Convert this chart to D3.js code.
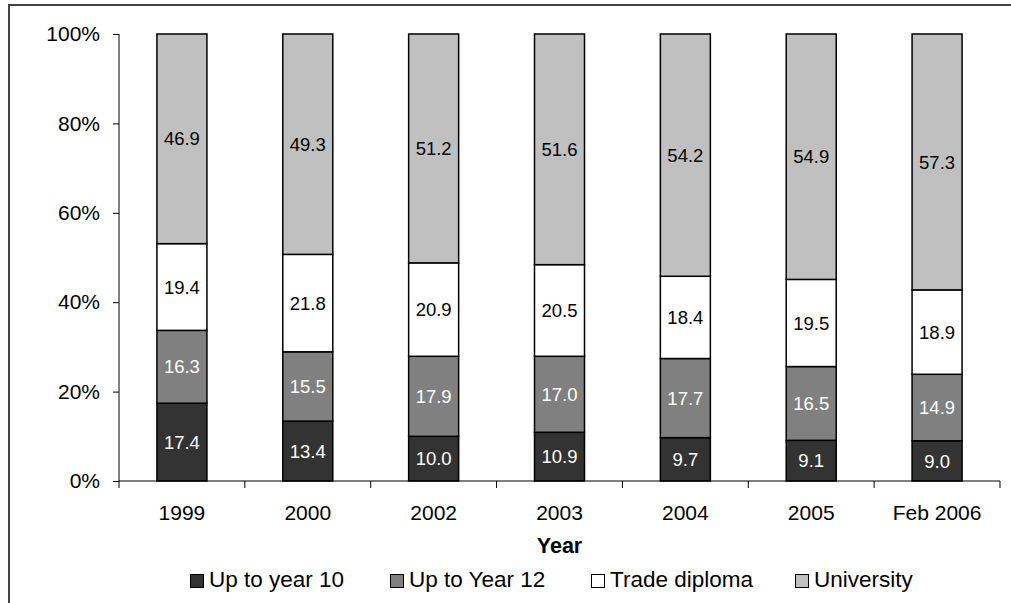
<!DOCTYPE html>
<html><head><meta charset="utf-8">
<script src="https://cdn.jsdelivr.net/npm/d3@7"></script>
<style>body{margin:0;background:#fff}svg{display:block;font-family:"Liberation Sans",Arial,sans-serif}</style>
</head><body><svg id="c" width="1011" height="603"></svg>
<script>
const categories = ["1999","2000","2002","2003","2004","2005","Feb 2006"];
const seriesNames = ["Up to year 10","Up to Year 12","Trade diploma","University"];
const upToYear10 = [17.4,13.4,10.0,10.9,9.7,9.1,9.0];
const upToYear12 = [16.3,15.5,17.9,17.0,17.7,16.5,14.9];
const tradeDiploma = [19.4,21.8,20.9,20.5,18.4,19.5,18.9];
const university = [46.9,49.3,51.2,51.6,54.2,54.9,57.3];
const yTicks = [0,20,40,60,80,100];
const colors = ["#333333","#808080","#ffffff","#c0c0c0"];
const labelColors = ["#ffffff","#ffffff","#000000","#000000"];

(function(){
const FF = "Liberation Sans, Arial, sans-serif";
const seriesVals = [upToYear10, upToYear12, tradeDiploma, university];
const rows = categories.map((c,i)=>{
  const r = {cat:c};
  const tot = d3.sum(seriesVals, s=>s[i]);
  seriesNames.forEach((n,k)=>{ r[n] = seriesVals[k][i]/tot*100; });
  return r;
});
const stack = d3.stack().keys(seriesNames)(rows);

const svg = d3.select("#c");
svg.append("path").attr("d","M9,603 V5 H1011").attr("fill","none").attr("stroke","#444").attr("stroke-width",2);

const pL=119, pR=1000, pT=34, pB=481;
const x = d3.scaleBand().domain(categories).range([pL,pR]).paddingInner(0).paddingOuter(0);
const y = d3.scaleLinear().domain([0,100]).range([pB,pT]);
const barW = 50;

const g = svg.append("g");
stack.forEach((layer,k)=>{
  layer.forEach((d,i)=>{
    const cx = x(categories[i]) + x.bandwidth()/2;
    g.append("rect").attr("x",cx-barW/2).attr("y",y(d[1])).attr("width",barW).attr("height",y(d[0])-y(d[1]))
      .attr("fill",colors[k]).attr("stroke","#000").attr("stroke-width",1.5);
  });
});
stack.forEach((layer,k)=>{
  layer.forEach((d,i)=>{
    const cx = x(categories[i]) + x.bandwidth()/2;
    g.append("text").attr("x",cx).attr("y",(y(d[0])+y(d[1]))/2).attr("dy","0.36em")
      .attr("text-anchor","middle").attr("font-size",18.5).attr("fill",labelColors[k])
      .text(seriesVals[k][i].toFixed(1));
  });
});

const ya = svg.append("g").attr("transform",`translate(${pL},0)`)
  .call(d3.axisLeft(y).tickValues(yTicks).tickFormat(d=>d+"%").tickSize(6).tickPadding(13));
ya.selectAll("text").attr("font-size",21).attr("fill","#000").attr("font-family",FF);
ya.selectAll("line,path").attr("stroke","#000");
ya.select(".domain").attr("d",`M0,${pB}V${pT}`);

const xa = svg.append("g").attr("transform",`translate(0,${pB})`)
  .call(d3.axisBottom(x).tickSize(0));
xa.selectAll("text").attr("font-size",21).attr("fill","#000").attr("font-family",FF)
  .attr("y",39).attr("dy",0);
xa.select(".domain").attr("d",`M${pL},0H${pR}`).attr("stroke","#000");
const bounds = categories.map(c=>x(c)).concat([pR]);
xa.selectAll(".bt").data(bounds).enter().append("line").attr("class","bt")
  .attr("x1",d=>d).attr("x2",d=>d).attr("y1",0).attr("y2",7).attr("stroke","#000");

svg.append("text").attr("x",(pL+pR)/2).attr("y",553).attr("text-anchor","middle")
  .attr("font-size",21.5).attr("font-weight","bold").text("Year");

const legX = [190,390,591,795];
const lg = svg.append("g");
seriesNames.forEach((n,k)=>{
  lg.append("rect").attr("x",legX[k]+0.5).attr("y",574.5).attr("width",13).attr("height",13)
    .attr("fill",colors[k]).attr("stroke","#000").attr("stroke-width",1);
  lg.append("text").attr("x",legX[k]+19).attr("y",587).attr("font-size",22.5).text(n);
});
})();
</script></body></html>
